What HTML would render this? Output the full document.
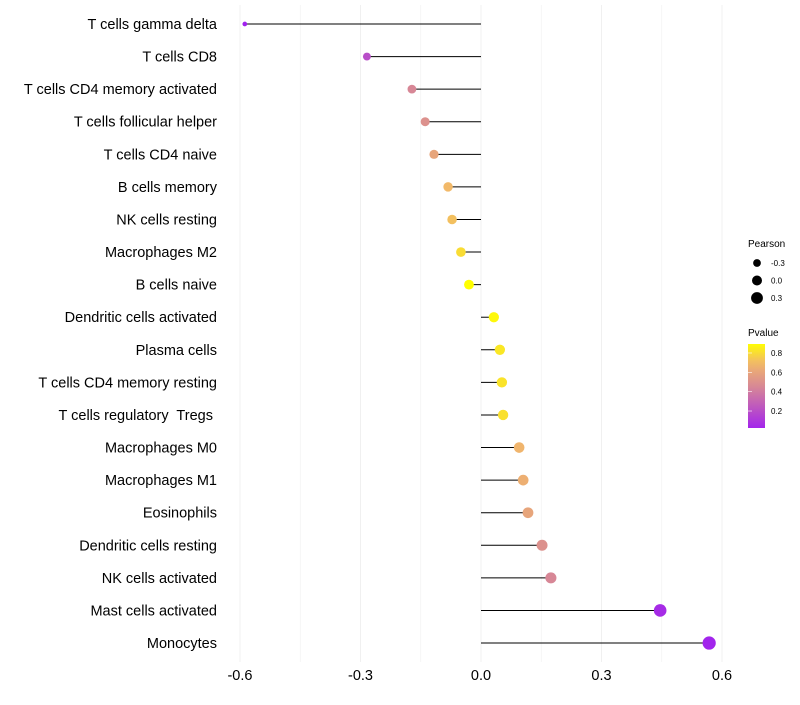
<!DOCTYPE html>
<html><head><meta charset="utf-8"><style>
body{margin:0;background:#fff;}
svg text{font-family:"Liberation Sans",sans-serif;white-space:pre;}
</style></head><body>
<svg id="chart" width="800" height="700">
<g id="grid"></g><g id="marks"></g><g id="labels"></g><g id="legend"></g>
</svg>
<script>
const categories=["T cells gamma delta","T cells CD8","T cells CD4 memory activated","T cells follicular helper","T cells CD4 naive","B cells memory","NK cells resting","Macrophages M2","B cells naive","Dendritic cells activated","Plasma cells","T cells CD4 memory resting","T cells regulatory  Tregs ","Macrophages M0","Macrophages M1","Eosinophils","Dendritic cells resting","NK cells activated","Mast cells activated","Monocytes"];
const pearson=[-0.588,-0.284,-0.172,-0.139,-0.117,-0.082,-0.072,-0.05,-0.03,0.032,0.047,0.052,0.055,0.095,0.105,0.117,0.152,0.174,0.446,0.568];
const pvalues=[0.01,0.2,0.45,0.5,0.6,0.7,0.72,0.8,0.9,0.88,0.83,0.82,0.81,0.68,0.65,0.6,0.5,0.45,0.05,0.02];
const xTicks=[-0.6,-0.3,0,0.3,0.6];
const xTickLabels=["-0.6","-0.3","0.0","0.3","0.6"];
const legendSizes=[-0.3,0,0.3];
const legendP=[0.8,0.6,0.4,0.2];
const NS="http://www.w3.org/2000/svg";
const x=v=>481+v*401.7;
const y=i=>24+i*32.58;
const r=v=>Math.max(1.8,Math.sqrt(25+33*v));
const stops=[[0,[160,32,240]],[0.45,[215,135,150]],[0.7,[242,185,105]],[0.9,[255,255,0]]];
function col(p){p=Math.max(0,Math.min(0.9,p));for(let k=1;k<stops.length;k++){if(p<=stops[k][0]){const a=stops[k-1],b=stops[k],t=(p-a[0])/(b[0]-a[0]);return "rgb("+a[1].map((c,j)=>Math.round(c+(b[1][j]-c)*t)).join(",")+")";}}return "rgb(255,255,0)";}
function el(t,a,parent){const e=document.createElementNS(NS,t);for(const k in a)e.setAttribute(k,a[k]);document.getElementById(parent).appendChild(e);return e;}
for(let v=-0.6;v<=0.61;v+=0.15){const g=el("line",{x1:x(v),x2:x(v),y1:5,y2:662,stroke:"#f0f0f0","stroke-width":Math.abs(Math.round(v/0.3)*0.3-v)<0.01?1:0.6},"grid");

}
xTicks.forEach((v,i)=>{const t=el("text",{x:x(v),y:680,"text-anchor":"middle","font-size":14.5,fill:"#000"},"labels");t.textContent=xTickLabels[i];

});
categories.forEach((c,i)=>{
const t=el("text",{x:217,y:y(i)+5,"text-anchor":"end","font-size":14.5,fill:"#000"},"labels");t.textContent=c;


const l=el("line",{x1:x(0),x2:x(pearson[i]),y1:y(i),y2:y(i),stroke:"#000","stroke-width":1},"marks");


const d=el("circle",{cx:x(pearson[i]),cy:y(i),r:r(pearson[i]),fill:col(pvalues[i])},"marks");


});
let t=el("text",{x:748,y:247,"font-size":10},"legend");t.textContent="Pearson";


legendSizes.forEach((v,i)=>{const c=el("circle",{cx:757,cy:263+i*17.5,r:r(v),fill:"#000"},"legend");


const tt=el("text",{x:771,y:266+i*17.5,"font-size":8},"legend");tt.textContent=v===0?"0.0":String(v);

});
t=el("text",{x:748,y:336,"font-size":10},"legend");t.textContent="Pvalue";


const defs=el("defs",{},"legend");
const lg=document.createElementNS(NS,"linearGradient");lg.setAttribute("id","pg");lg.setAttribute("x1","0");lg.setAttribute("y1","1");lg.setAttribute("x2","0");lg.setAttribute("y2","0");defs.appendChild(lg);
const pTop=0.893,pBot=0.024;
for(let k=0;k<=10;k++){const p=pBot+(pTop-pBot)*k/10;const s=document.createElementNS(NS,"stop");s.setAttribute("offset",k/10);s.setAttribute("stop-color",col(p));lg.appendChild(s);}
const bar=el("rect",{x:748,y:344,width:17,height:84,fill:"url(#pg)"},"legend");


legendP.forEach(p=>{const yy=344+(pTop-p)*96.7;
const tk=el("line",{x1:748,x2:752,y1:yy,y2:yy,stroke:"#fff","stroke-width":0.6},"legend");


const tt=el("text",{x:771,y:yy+3,"font-size":8},"legend");tt.textContent=p.toFixed(1);

});
</script>
</body></html>
